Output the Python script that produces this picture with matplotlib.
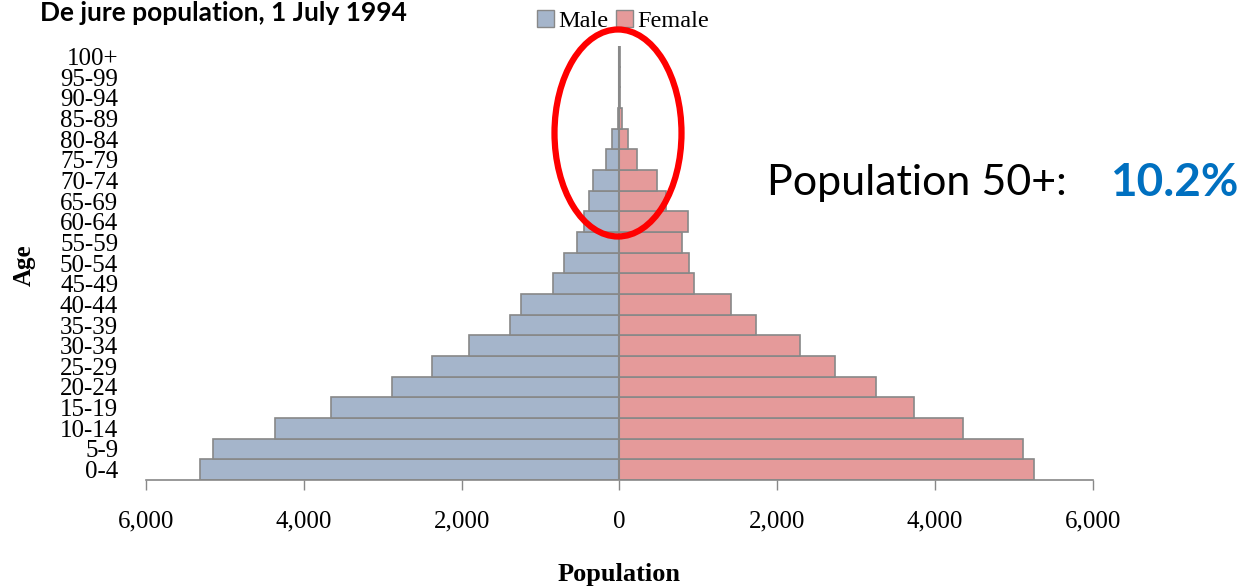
import matplotlib
matplotlib.use('Agg')
import matplotlib.pyplot as plt
from matplotlib.patches import Ellipse, Patch
import numpy as np

age_groups = ['0-4', '5-9', '10-14', '15-19', '20-24', '25-29', '30-34', '35-39',
              '40-44', '45-49', '50-54', '55-59', '60-64', '65-69', '70-74',
              '75-79', '80-84', '85-89', '90-94', '95-99', '100+']
male = [5316, 5146, 4359, 3653, 2883, 2372, 1902, 1391, 1253, 848, 702, 540,
        450, 383, 341, 170, 97, 20, 6, 2, 1]
female = [5258, 5119, 4351, 3734, 3248, 2737, 2291, 1731, 1415, 945, 879, 791,
          864, 590, 481, 225, 103, 37, 9, 3, 1]
x_ticks = [-6000, -4000, -2000, 0, 2000, 4000, 6000]

male_col = '#a5b5cb'
female_col = '#e59a9a'
edge = '#888888'
serif = 'Liberation Serif'

fig = plt.figure(figsize=(12.56, 5.87), dpi=100)
ax = fig.add_axes([0.1162, 0.1823, 0.754, 0.7393])

ind = np.arange(len(age_groups))
ax.barh(ind, -np.array(male), 1.0, color=male_col, edgecolor=edge, linewidth=1.2)
ax.barh(ind, female, 1.0, color=female_col, edgecolor=edge, linewidth=1.2)
ax.axvline(0, color=edge, linewidth=1.5)

ax.set_xlim(-6000, 6000)
ax.set_ylim(-0.5, len(age_groups) - 0.5)
ax.set_xticks(x_ticks)
ax.set_xticklabels(['{:,}'.format(abs(v)) for v in x_ticks], family=serif, fontsize=18)
ax.set_yticks(ind)
ax.set_yticklabels(age_groups, family=serif, fontsize=18)
ax.tick_params(axis='y', length=0, pad=20)
ax.tick_params(axis='x', length=7, width=1, color=edge, direction='out', pad=15)

for s in ['top', 'right', 'left']:
    ax.spines[s].set_visible(False)
ax.spines['bottom'].set_color(edge)
ax.spines['bottom'].set_linewidth(1.2)

ax.set_xlabel('Population', family=serif, fontsize=19, fontweight='bold', labelpad=22)
fig.text(0.019, 0.548, 'Age', family=serif, fontsize=18, fontweight='bold',
         rotation=90, ha='center', va='center')

# title is clipped at the top in the original, keep it just inside here
fig.text(0.032, 0.999, 'De jure population, 1 July 1994', family='Lato',
         fontsize=19, fontweight='bold', ha='left', va='top')

handles = [Patch(facecolor=male_col, edgecolor=edge), Patch(facecolor=female_col, edgecolor=edge)]
fig.legend(handles, ['Male', 'Female'], loc='center', bbox_to_anchor=(0.496, 0.965),
           ncol=2, frameon=False, prop={'family': serif, 'size': 17.5},
           handlelength=0.7, handleheight=0.7, handletextpad=0.2, columnspacing=0.3)

fig.patches.append(Ellipse((618 / 1256, 1 - 133 / 587), 127 / 1256, 207 / 587,
                           transform=fig.transFigure, fill=False,
                           edgecolor='#ff0000', linewidth=4.5, zorder=10))

fig.text(767 / 1256, 1 - 183 / 587, 'Population 50+:', family='Lato',
         fontsize=31, ha='left', va='center')
fig.text(1110 / 1256, 1 - 183 / 587, '10.2%', family='Lato', fontsize=33,
         fontweight='bold', color='#0070c0', ha='left', va='center')

fig.savefig('out.png', dpi=100)
